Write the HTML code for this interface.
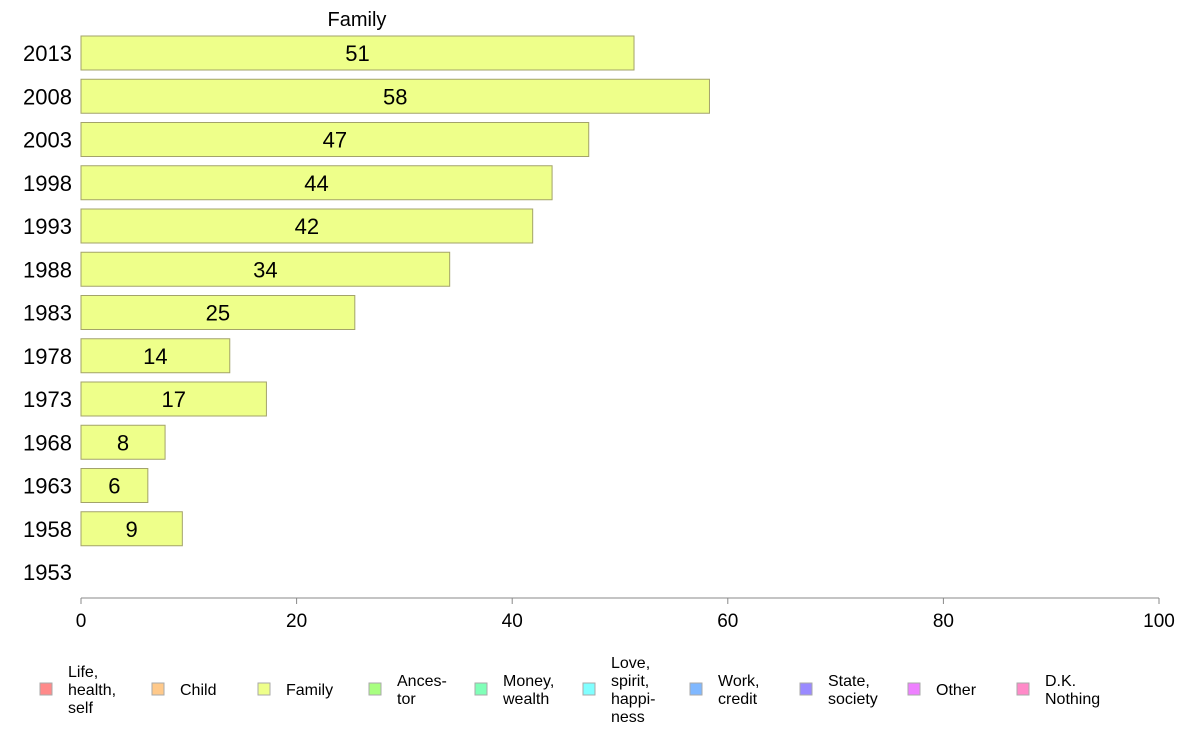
<!DOCTYPE html>
<html><head><meta charset="utf-8"><style>
body{margin:0;background:#fff;font-family:"Liberation Sans",sans-serif}
</style></head><body>
<svg id="c" width="1188" height="736" xmlns="http://www.w3.org/2000/svg" font-family="Liberation Sans, sans-serif">
<text x="357" y="26" font-size="20" text-anchor="middle">Family</text>
<g id="bars"></g>
<g id="axis"></g>
<g id="legend"></g>
</svg>
<script>
const years = ["2013","2008","2003","1998","1993","1988","1983","1978","1973","1968","1963","1958","1953"];
const values = [51.3,58.3,47.1,43.7,41.9,34.2,25.4,13.8,17.2,7.8,6.2,9.4,null];
const labels = ["51","58","47","44","42","34","25","14","17","8","6","9",""];
const ticks = [0,20,40,60,80,100];
const legendNames = [["Life,","health,","self"],["Child"],["Family"],["Ances-","tor"],["Money,","wealth"],["Love,","spirit,","happi-","ness"],["Work,","credit"],["State,","society"],["Other"],["D.K.","Nothing"]];
const legendColors = ["#ff8a8a","#ffc98a","#eeff8a","#a8ff80","#80ffb8","#80ffff","#80b8ff","#9a8aff","#ee80ff","#ff8ac8"];
const NS="http://www.w3.org/2000/svg";
const x0=81,x1=1159, xs=v=>x0+(x1-x0)*v/100;
const yTop=53, step=(572-53)/12, ys=i=>yTop+i*step;
function mk(t,a,p){const e=document.createElementNS(NS,t);for(const k in a)e.setAttribute(k,a[k]);p.appendChild(e);return e;}
const bars=document.getElementById('bars');
years.forEach((y,i)=>{
 const cy=ys(i);
 const t=mk('text',{x:72,y:cy+8,'font-size':22,'text-anchor':'end'},bars);t.textContent=y;
 
 
 if(values[i]==null)return;
 const r=mk('rect',{x:x0,y:cy-17,width:xs(values[i])-x0,height:34,fill:'#eeff8a',stroke:'#a3a36a','stroke-width':1},bars);
 
 
 const l=mk('text',{x:(x0+xs(values[i]))/2,y:cy+8,'font-size':22,'text-anchor':'middle'},bars);l.textContent=labels[i];
 
 
});
const ax=document.getElementById('axis');
mk('line',{x1:x0,x2:x1,y1:598,y2:598,stroke:'#888'},ax);
ticks.forEach(v=>{
 mk('line',{x1:xs(v),x2:xs(v),y1:598,y2:604,stroke:'#888'},ax);
 const t=mk('text',{x:xs(v),y:627,'font-size':19,'text-anchor':'middle'},ax);t.textContent=v;
 
 
});
const lg=document.getElementById('legend');
const lx=[40,152,258,369,475,583,690,800,908,1017];
legendNames.forEach((n,i)=>{
 const g=mk('g',{},lg);
 
 
 mk('rect',{x:lx[i],y:683,width:12,height:12,fill:legendColors[i],stroke:'#aaa','stroke-width':1},g);
 const lh=18, start=689-(n.length-1)*lh/2+6;
 n.forEach((s,j)=>{const t=mk('text',{x:lx[i]+28,y:start+j*lh,'font-size':16},g);t.textContent=s;});
});
</script>
</body></html>
